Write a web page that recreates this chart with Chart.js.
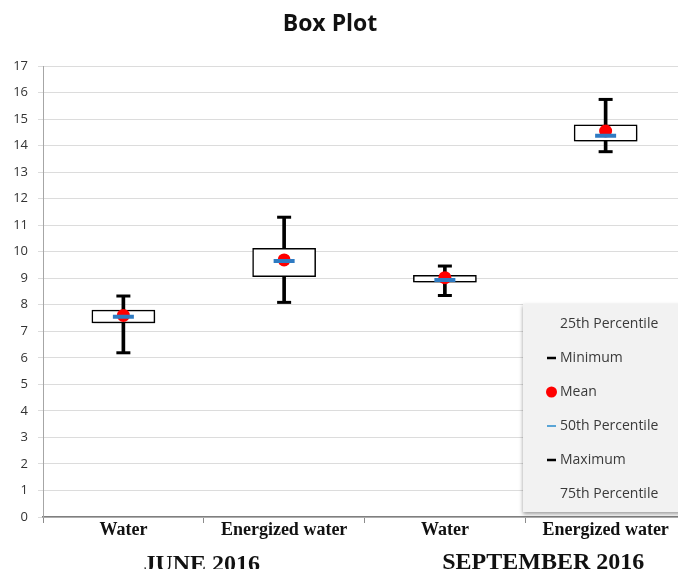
<!DOCTYPE html>
<html>
<head>
<meta charset="utf-8">
<script src="https://cdn.jsdelivr.net/npm/chart.js@4.4.1/dist/chart.umd.min.js"></script>
<style>
  html, body { margin: 0; padding: 0; background: #ffffff; overflow: hidden; }
  #c { display: block; }
</style>
</head>
<body>
<canvas id="c" width="686" height="569" style="width:686px;height:569px"></canvas>
<script>
// ---- data ----
const categories = ['Water', 'Energized water', 'Water', 'Energized water'];
const groupLabels = ['JUNE 2016', 'SEPTEMBER 2016'];
const chartTitle = 'Box Plot';
const minimum = [6.19, 8.09, 8.35, 13.77];
const q1      = [7.32, 9.06, 8.85, 14.17];
const median  = [7.55, 9.65, 8.93, 14.37];
const q3      = [7.80, 10.13, 9.11, 14.78];
const maximum = [8.33, 11.30, 9.46, 15.74];
const mean    = [7.60, 9.69, 9.02, 14.55];
const legendLabels = ['25th Percentile', 'Minimum', 'Mean', '50th Percentile', 'Maximum', '75th Percentile'];
const yMin = 0, yMax = 17, yStep = 1;

const whiskerData = minimum.map((m, i) => [m, maximum[i]]);
const boxData = q1.map((a, i) => [a, q3[i]]);

const shadowPlugin = {
  id: 'boxShadow',
  beforeDatasetDraw(chart, args) {
    if (args.index === 1) {
      const ctx = chart.ctx;
      ctx.save();
      ctx.shadowColor = 'rgba(0,0,0,0.45)';
      ctx.shadowBlur = 5;
      ctx.shadowOffsetX = 2;
      ctx.shadowOffsetY = 2;
    }
  },
  afterDatasetDraw(chart, args) {
    if (args.index === 1) chart.ctx.restore();
  }
};

const extrasPlugin = {
  id: 'extras',
  afterDraw(chart) {
    const ctx = chart.ctx;
    const xs = chart.scales.x;
    const area = chart.chartArea;
    // title
    ctx.save();
    ctx.fillStyle = '#111111';
    ctx.font = 'bold 23px "Open Sans", Lato, sans-serif';
    ctx.textAlign = 'center';
    ctx.textBaseline = 'middle';
    ctx.fillText(chartTitle, 330, 24);
    ctx.restore();

    // group labels
    ctx.save();
    ctx.fillStyle = '#111111';
    ctx.font = 'bold 24px "Liberation Serif", "DejaVu Serif", serif';
    ctx.textAlign = 'center';
    ctx.textBaseline = 'alphabetic';
    const g1 = (xs.getPixelForValue(0) + xs.getPixelForValue(1)) / 2 - 2;
    const g2 = (xs.getPixelForValue(2) + xs.getPixelForValue(3)) / 2 + 18;
    ctx.fillText(groupLabels[0], g1, 571);
    ctx.fillText(groupLabels[1], g2, 569);
    ctx.restore();

    // legend panel
    const lx = area.right - 163, ly = area.bottom - 213, lw = 170, lh = 208;
    ctx.save();
    ctx.shadowColor = 'rgba(0,0,0,0.4)';
    ctx.shadowBlur = 4;
    ctx.shadowOffsetX = 0;
    ctx.shadowOffsetY = 2;
    ctx.fillStyle = '#f2f2f2';
    ctx.fillRect(lx, ly, lw, lh);
    ctx.restore();

    ctx.save();
    ctx.font = '14px "Open Sans", "Noto Sans", sans-serif';
    ctx.textBaseline = 'middle';
    ctx.textAlign = 'left';
    const tx = lx + 37;
    const mx = lx + 24;
    legendLabels.forEach((lab, i) => {
      const y = ly + 20 + i * 34;
      ctx.fillStyle = '#3a3a3a';
      ctx.fillText(lab, tx, y);
      if (i === 1 || i === 4) {
        ctx.strokeStyle = '#000000';
        ctx.lineWidth = 2.5;
        ctx.beginPath(); ctx.moveTo(mx, y); ctx.lineTo(mx + 9, y); ctx.stroke();
      } else if (i === 3) {
        ctx.strokeStyle = '#5aa5d6';
        ctx.lineWidth = 2;
        ctx.beginPath(); ctx.moveTo(mx, y); ctx.lineTo(mx + 9, y); ctx.stroke();
      } else if (i === 2) {
        ctx.fillStyle = '#ff0000';
        ctx.beginPath(); ctx.arc(mx + 4.5, y, 5.5, 0, Math.PI * 2); ctx.fill();
      }
    });
    ctx.restore();
  }
};

new Chart(document.getElementById('c'), {
  type: 'bar',
  data: {
    labels: categories,
    datasets: [
      { label: 'Whisker', data: whiskerData, backgroundColor: '#000000', barThickness: 3, grouped: false, order: 5 },
      { label: 'Box', data: boxData, backgroundColor: '#ffffff', borderColor: '#000000', borderWidth: 1.5,
        borderSkipped: false, barThickness: 63, grouped: false, order: 4 },
      { type: 'line', label: 'Minimum', data: minimum, showLine: false, pointStyle: 'line', pointRadius: 7,
        borderColor: '#000000', borderWidth: 3, order: 3 },
      { type: 'line', label: 'Maximum', data: maximum, showLine: false, pointStyle: 'line', pointRadius: 7,
        borderColor: '#000000', borderWidth: 3, order: 3 },
      { type: 'line', label: 'Mean', data: mean, showLine: false, pointStyle: 'circle', pointRadius: 6.5,
        backgroundColor: '#ff0000', borderColor: '#ff0000', borderWidth: 0, order: 2 },
      { type: 'line', label: '50th Percentile', data: median, showLine: false, pointStyle: 'line', pointRadius: 10.5,
        borderColor: '#2f7bc2', borderWidth: 4, order: 1 }
    ]
  },
  options: {
    responsive: false,
    maintainAspectRatio: false,
    devicePixelRatio: 1,
    animation: false,
    layout: { autoPadding: false, padding: { top: 66, right: 0, bottom: 0, left: 0 } },
    plugins: {
      legend: { display: false },
      tooltip: { enabled: false },
      title: { display: false }
    },
    scales: {
      x: {
        type: 'category',
        offset: true,
        afterFit(scale) { scale.height = 52; scale.paddingRight = 0; scale.paddingLeft = 0; },
        grid: { display: true, offset: true, drawOnChartArea: false, drawTicks: true, tickLength: 6, color: '#8c8c8c' },
        border: { display: true, color: '#7f7f7f', width: 1.5 },
        ticks: {
          color: '#111111',
          padding: -3,
          font: { family: '"Liberation Serif", "DejaVu Serif", serif', size: 18, weight: 'bold' }
        }
      },
      y: {
        min: yMin,
        max: yMax,
        afterFit(scale) { scale.width = 43; },
        grid: { color: '#dcdcdc', lineWidth: 1, tickLength: 5, drawTicks: true },
        border: { display: true, color: '#a6a6a6', width: 1 },
        ticks: {
          stepSize: yStep,
          color: '#333333',
          padding: 10,
          font: { family: '"Open Sans", "Noto Sans", sans-serif', size: 13 }
        }
      }
    }
  },
  plugins: [shadowPlugin, extrasPlugin]
});
</script>
</body>
</html>
